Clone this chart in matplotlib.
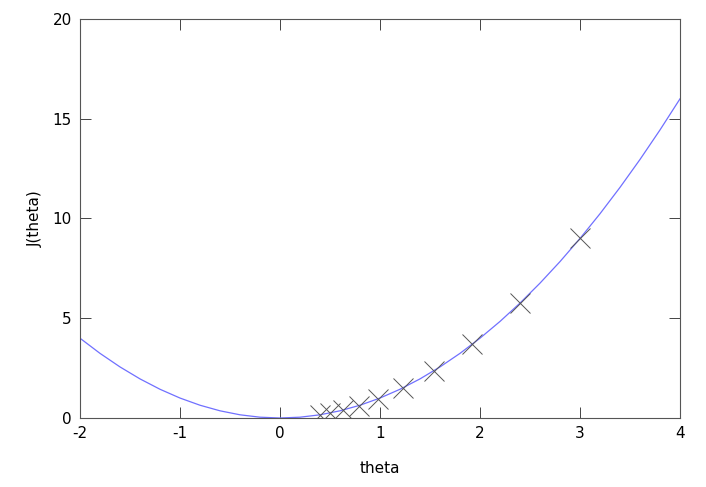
import matplotlib
matplotlib.use("Agg")
import matplotlib.pyplot as plt

plt.rcParams["axes.unicode_minus"] = False

# cost curve J(theta)
curve_theta = [-2.0, -1.8, -1.6, -1.4, -1.2, -1.0, -0.8, -0.6, -0.4, -0.2, 0.0,
               0.2, 0.4, 0.6, 0.8, 1.0, 1.2, 1.4, 1.6, 1.8, 2.0, 2.2, 2.4, 2.6,
               2.8, 3.0, 3.2, 3.4, 3.6, 3.8, 4.0]
curve_J = [4.0, 3.24, 2.56, 1.96, 1.44, 1.0, 0.64, 0.36, 0.16, 0.04, 0.0,
           0.04, 0.16, 0.36, 0.64, 1.0, 1.44, 1.96, 2.56, 3.24, 4.0, 4.84, 5.76, 6.76,
           7.84, 9.0, 10.24, 11.56, 12.96, 14.44, 16.0]

# gradient descent iterates
step_theta = [3.0, 2.4, 1.92, 1.54, 1.23, 0.98, 0.79, 0.63, 0.50, 0.40]
step_J = [9.0, 5.76, 3.69, 2.36, 1.51, 0.97, 0.62, 0.40, 0.25, 0.16]

fig = plt.figure(figsize=(7.06, 4.87), dpi=100)
ax = fig.add_axes([0.1133, 0.1417, 0.8499, 0.8193])

ax.plot(curve_theta, curve_J, color="#7070ff", linewidth=0.9)
ax.plot(step_theta, step_J, linestyle="none", marker="x", markersize=14,
        markeredgewidth=0.7, color="#555555")

ax.set_xlim(-2, 4)
ax.set_ylim(0, 20)
ax.set_xticks([-2, -1, 0, 1, 2, 3, 4])
ax.set_yticks([0, 5, 10, 15, 20])
ax.tick_params(direction="in", length=8, width=0.7, top=True, right=True,
               labelsize=11, color="#444444", pad=6)
for s in ax.spines.values():
    s.set_color("#555555")
    s.set_linewidth(0.8)

ax.set_xlabel("theta", fontsize=11, labelpad=14)
ax.set_ylabel("J(theta)", fontsize=11, labelpad=7)

fig.savefig("out.png", dpi=100)
